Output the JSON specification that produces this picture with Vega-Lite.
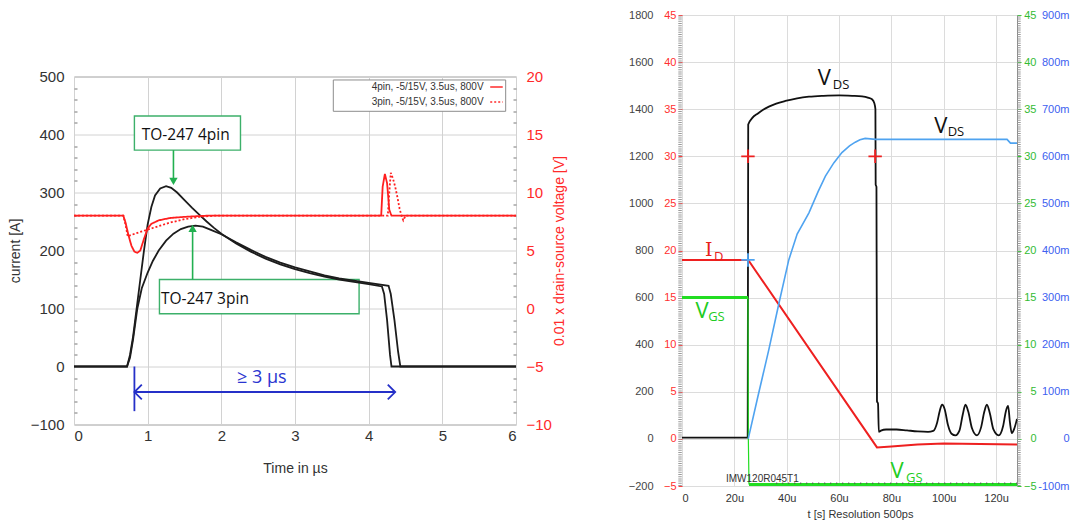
{
  "$schema": "https://vega.github.io/schema/vega-lite/v6.json",
  "background": "white",
  "padding": {"left": 7, "top": 8, "right": 4, "bottom": 4},
  "spacing": 166,
  "bounds": "flush",
  "center": true,
  "config": {"font": "Liberation Sans"},
  "datasets": {
    "cur": [
      {"s":"4pin","t":0,"v":0},{"s":"4pin","t":0.5,"v":0},{"s":"4pin","t":0.72,"v":0},{"s":"4pin","t":0.76,"v":20},{"s":"4pin","t":0.8,"v":50},
      {"s":"4pin","t":0.85,"v":100},{"s":"4pin","t":0.9,"v":150},{"s":"4pin","t":0.95,"v":200},{"s":"4pin","t":1.0,"v":245},{"s":"4pin","t":1.05,"v":275},
      {"s":"4pin","t":1.1,"v":295},{"s":"4pin","t":1.17,"v":307},{"s":"4pin","t":1.25,"v":311},{"s":"4pin","t":1.32,"v":308},{"s":"4pin","t":1.4,"v":300},
      {"s":"4pin","t":1.5,"v":287},{"s":"4pin","t":1.6,"v":274},{"s":"4pin","t":1.7,"v":262},{"s":"4pin","t":1.8,"v":250},{"s":"4pin","t":1.9,"v":239},
      {"s":"4pin","t":2.0,"v":229},{"s":"4pin","t":2.2,"v":212},{"s":"4pin","t":2.4,"v":198},{"s":"4pin","t":2.6,"v":186},{"s":"4pin","t":2.8,"v":176},
      {"s":"4pin","t":3.0,"v":168},{"s":"4pin","t":3.2,"v":161},{"s":"4pin","t":3.4,"v":155},{"s":"4pin","t":3.6,"v":150},{"s":"4pin","t":3.8,"v":146},
      {"s":"4pin","t":4.0,"v":142},{"s":"4pin","t":4.18,"v":138},{"s":"4pin","t":4.21,"v":125},{"s":"4pin","t":4.25,"v":80},{"s":"4pin","t":4.29,"v":20},
      {"s":"4pin","t":4.31,"v":0},{"s":"4pin","t":5,"v":0},{"s":"4pin","t":6,"v":0},
      {"s":"3pin","t":0,"v":0},{"s":"3pin","t":0.72,"v":0},{"s":"3pin","t":0.76,"v":15},{"s":"3pin","t":0.8,"v":45},{"s":"3pin","t":0.86,"v":100},
      {"s":"3pin","t":0.92,"v":135},{"s":"3pin","t":1.0,"v":162},{"s":"3pin","t":1.07,"v":182},{"s":"3pin","t":1.15,"v":200},{"s":"3pin","t":1.25,"v":217},
      {"s":"3pin","t":1.35,"v":229},{"s":"3pin","t":1.45,"v":237},{"s":"3pin","t":1.55,"v":241},{"s":"3pin","t":1.65,"v":243},{"s":"3pin","t":1.75,"v":241},
      {"s":"3pin","t":1.85,"v":236},{"s":"3pin","t":2.0,"v":228},{"s":"3pin","t":2.2,"v":214},{"s":"3pin","t":2.4,"v":201},{"s":"3pin","t":2.6,"v":189},
      {"s":"3pin","t":2.8,"v":179},{"s":"3pin","t":3.0,"v":171},{"s":"3pin","t":3.2,"v":164},{"s":"3pin","t":3.4,"v":157},{"s":"3pin","t":3.6,"v":152},
      {"s":"3pin","t":3.8,"v":148},{"s":"3pin","t":4.0,"v":144},{"s":"3pin","t":4.27,"v":139},{"s":"3pin","t":4.3,"v":125},{"s":"3pin","t":4.35,"v":80},
      {"s":"3pin","t":4.4,"v":25},{"s":"3pin","t":4.43,"v":0},{"s":"3pin","t":5,"v":0},{"s":"3pin","t":6,"v":0}
    ],
    "vol": [
      {"s":"4pin","t":0,"v":8},{"s":"4pin","t":0.67,"v":8},{"s":"4pin","t":0.7,"v":7.4},{"s":"4pin","t":0.74,"v":6.3},{"s":"4pin","t":0.78,"v":5.4},
      {"s":"4pin","t":0.82,"v":4.9},{"s":"4pin","t":0.86,"v":4.8},{"s":"4pin","t":0.9,"v":5.0},{"s":"4pin","t":0.95,"v":6.0},{"s":"4pin","t":1.0,"v":6.9},
      {"s":"4pin","t":1.05,"v":7.3},{"s":"4pin","t":1.15,"v":7.6},{"s":"4pin","t":1.3,"v":7.8},{"s":"4pin","t":1.5,"v":7.9},{"s":"4pin","t":1.8,"v":8},
      {"s":"4pin","t":4.17,"v":8},{"s":"4pin","t":4.19,"v":10.5},{"s":"4pin","t":4.22,"v":11.6},{"s":"4pin","t":4.25,"v":10.8},{"s":"4pin","t":4.28,"v":8.5},
      {"s":"4pin","t":4.31,"v":8},{"s":"4pin","t":6,"v":8},
      {"s":"3pin","t":0,"v":8},{"s":"3pin","t":0.67,"v":8},{"s":"3pin","t":0.7,"v":7.2},{"s":"3pin","t":0.73,"v":6.2},{"s":"3pin","t":0.76,"v":6.3},
      {"s":"3pin","t":0.85,"v":6.5},{"s":"3pin","t":1.0,"v":6.8},{"s":"3pin","t":1.15,"v":7.1},{"s":"3pin","t":1.3,"v":7.4},{"s":"3pin","t":1.5,"v":7.7},
      {"s":"3pin","t":1.7,"v":7.9},{"s":"3pin","t":1.9,"v":8},{"s":"3pin","t":4.26,"v":8},{"s":"3pin","t":4.28,"v":10},{"s":"3pin","t":4.3,"v":11.7},
      {"s":"3pin","t":4.33,"v":11.2},{"s":"3pin","t":4.36,"v":10.5},{"s":"3pin","t":4.39,"v":9.6},{"s":"3pin","t":4.42,"v":8.6},{"s":"3pin","t":4.45,"v":7.9},
      {"s":"3pin","t":4.47,"v":7.6},{"s":"3pin","t":4.5,"v":8},{"s":"3pin","t":6,"v":8}
    ],
    "box_green": [{"t":0.82,"t2":2.26,"v":373,"v2":432},{"t":1.16,"t2":3.87,"v":91,"v2":150}],
    "box_leg": [{"t":3.52,"t2":5.86,"v":440,"v2":494}],
    "arrow_green": [{"t":1.35,"v":373,"v2":322},{"t":1.61,"v":150,"v2":236}],
    "head_green": [{"t":1.35,"v":319,"dir":"down"},{"t":1.61,"v":238,"dir":"up"}],
    "blue_lines": [{"t":0.82,"t2":0.82,"v":0,"v2":-77},{"t":0.82,"t2":4.36,"v":-44,"v2":-44}],
    "blue_heads": [{"t":0.82,"v":-44,"dir":"left"},{"t":4.36,"v":-44,"dir":"right"}],
    "lab_left": [{"t":0.92,"v":400,"txt":"TO-247 4pin"},{"t":1.18,"v":116,"txt":"TO-247 3pin"}],
    "lab_blue": [{"t":2.55,"v":-20,"txt":"≥ 3 µs"}],
    "leg_text": [{"t":5.56,"v":482,"txt":"4pin, -5/15V, 3.5us, 800V"},{"t":5.56,"v":456,"txt":"3pin, -5/15V, 3.5us, 800V"}],
    "leg_lines": [{"s":"4pin","t":5.65,"v":482},{"s":"4pin","t":5.82,"v":482},{"s":"3pin","t":5.65,"v":456},{"s":"3pin","t":5.82,"v":456}],
    "vds": [
      {"t":0,"v":5},{"t":25.1,"v":5},{"t":25.3,"v":1335},{"t":26.8,"v":1362},{"t":29,"v":1382},{"t":31,"v":1398},{"t":33.2,"v":1411},
      {"t":36,"v":1424},{"t":39.5,"v":1435},{"t":44,"v":1446},{"t":48.5,"v":1453},{"t":54,"v":1457},{"t":60,"v":1459},{"t":65,"v":1457},
      {"t":68.8,"v":1454},{"t":71,"v":1449},{"t":72.6,"v":1442},{"t":73.5,"v":1425},{"t":73.9,"v":1400},{"t":74.0,"v":1080},{"t":74.3,"v":1070},
      {"t":74.5,"v":160},{"t":74.9,"v":150},{"t":75.2,"v":30},{"t":76,"v":35},{"t":78,"v":40},{"t":82,"v":40},{"t":86,"v":36},{"t":90,"v":32},
      {"t":94,"v":30},{"t":96,"v":34},{"t":97.5,"v":70},{"t":98.5,"v":120},{"t":99.4,"v":145},{"t":100.4,"v":125},{"t":101.6,"v":60},{"t":103,"v":22},
      {"t":104.5,"v":15},{"t":106,"v":35},{"t":107.3,"v":105},{"t":108.3,"v":145},{"t":109.4,"v":115},{"t":110.8,"v":45},{"t":112.7,"v":15},
      {"t":114.3,"v":50},{"t":115.5,"v":115},{"t":116.5,"v":145},{"t":117.6,"v":110},{"t":119,"v":40},{"t":121,"v":15},{"t":122.7,"v":55},
      {"t":123.8,"v":120},{"t":124.6,"v":140},{"t":125.3,"v":70},{"t":126,"v":25},{"t":127,"v":45},{"t":128,"v":85}
    ],
    "id": [{"t":0,"v":19},{"t":25.3,"v":19},{"t":74.5,"v":-0.9},{"t":80,"v":-0.8},{"t":90,"v":-0.6},{"t":100,"v":-0.5},{"t":128,"v":-0.6}],
    "vgs": [{"s":"on","t":0,"v":15},{"s":"on","t":25.2,"v":15},{"s":"off","t":25.6,"v":-4.85},{"s":"off","t":128,"v":-4.85}],
    "vgs_drop": [{"t":25.2,"v":15},{"t":25.35,"v":0},{"t":25.6,"v":-4.85}],
    "vds2": [
      {"t":25.3,"v":0},{"t":29,"v":0.09},{"t":33.2,"v":0.19},{"t":37,"v":0.287},{"t":40.8,"v":0.38},{"t":44,"v":0.435},{"t":48.5,"v":0.48},
      {"t":52,"v":0.525},{"t":54.8,"v":0.558},{"t":58,"v":0.586},{"t":61.1,"v":0.608},{"t":64,"v":0.622},{"t":66.2,"v":0.63},{"t":68,"v":0.635},
      {"t":70,"v":0.638},{"t":74,"v":0.636},{"t":124.2,"v":0.636},{"t":125.5,"v":0.628},{"t":128,"v":0.628}
    ],
    "xred": [{"t":25.2,"v":30},{"t":73.8,"v":30}],
    "xblue": [{"t":25.2,"v":19}],
    "rbig": [
      {"t":51.9,"v":37.57,"k":"VDS","txt":"V"},{"t":96.4,"v":32.52,"k":"VDS","txt":"V"},
      {"t":5.2,"v":12.88,"k":"VGS","txt":"V"},{"t":79.7,"v":-4.1,"k":"VGS","txt":"V"}
    ],
    "rbig_i": [{"t":8.8,"v":19.42,"txt":"I"}],
    "rsub": [
      {"t":57.6,"v":37.19,"k":"VDS","txt":"DS"},{"t":101.5,"v":32.15,"k":"VDS","txt":"DS"},{"t":12.2,"v":18.9,"k":"ID","txt":"D"},
      {"t":10.0,"v":12.52,"k":"VGS","txt":"GS"},{"t":85.6,"v":-4.57,"k":"VGS","txt":"GS"}
    ],
    "part": [{"t":16.8,"v":-4.6,"txt":"IMW120R045T1"}],
    "dots": [{"t":36,"v":-4.7},{"t":128,"v":-4.7}],
    "frame_ticks": [{"t":-0.75,"v":-5,"v2":45},{"t":128.75,"v":-5,"v2":45}]
  },
  "hconcat": [
    {
      "width": 442,
      "height": 348,
      "view": {"stroke": "#9a9a9a"},
      "encoding": {
        "x": {
          "field": "t", "type": "quantitative",
          "scale": {"domain": [0, 6], "nice": false, "zero": false},
          "axis": {"title": "Time in µs", "values": [0,1,2,3,4,5,6], "grid": true, "gridColor": "#d2d2d2", "domain": false, "ticks": false,
                   "labelPadding": 4, "labelFontSize": 15, "labelColor": "#333", "titleFontSize": 14, "titleFontWeight": "normal", "titleColor": "#333", "titlePadding": 18}
        }
      },
      "resolve": {"scale": {"y": "independent"}},
      "layer": [
        {
          "encoding": {
            "y": {
              "field": "v", "type": "quantitative",
              "scale": {"domain": [-100, 500], "nice": false, "zero": false},
              "axis": {"orient": "left", "title": "current [A]", "values": [-100,0,100,200,300,400,500], "grid": true, "gridColor": "#d2d2d2",
                       "domain": false, "ticks": false, "labelPadding": 10, "labelFontSize": 15, "labelColor": "#333",
                       "titleFontSize": 14, "titleFontWeight": "normal", "titleColor": "#333", "titlePadding": 8}
            }
          },
          "resolve": {"scale": {"shape": "independent"}},
          "layer": [
            {"data": {"name": "box_green"}, "mark": {"type": "rect", "fill": "white", "stroke": "#3cb06a", "strokeWidth": 1.4},
             "encoding": {"x2": {"field": "t2"}, "y2": {"field": "v2"}}},
            {"data": {"name": "box_leg"}, "mark": {"type": "rect", "fill": "white", "stroke": "#8c8c8c", "strokeWidth": 1},
             "encoding": {"x2": {"field": "t2"}, "y2": {"field": "v2"}}},
            {"data": {"name": "cur"}, "mark": {"type": "line", "color": "#1c1c1c", "strokeWidth": 1.8},
             "encoding": {"detail": {"field": "s"}}},
            {"data": {"name": "arrow_green"}, "mark": {"type": "rule", "color": "#22b050", "strokeWidth": 1.6},
             "encoding": {"y2": {"field": "v2"}}},
            {"data": {"name": "head_green"}, "mark": {"type": "point", "filled": true, "color": "#22b050", "size": 70, "opacity": 1},
             "encoding": {"shape": {"field": "dir", "type": "nominal", "scale": {"domain": ["down","up"], "range": ["triangle-down","triangle-up"]}, "legend": null}}},
            {"data": {"name": "blue_lines"}, "mark": {"type": "rule", "color": "#2530c8", "strokeWidth": 1.8},
             "encoding": {"x2": {"field": "t2"}, "y2": {"field": "v2"}}},
            {"data": {"name": "blue_heads"}, "mark": {"type": "point", "filled": false, "color": "#2530c8", "strokeWidth": 1.8, "size": 220, "opacity": 1},
             "encoding": {"shape": {"field": "dir", "type": "nominal", "scale": {"domain": ["left","right"], "range": ["M1,-1L0,0L1,1","M-1,-1L0,0L-1,1"]}, "legend": null}}},
            {"data": {"name": "lab_left"}, "mark": {"type": "text", "align": "left", "baseline": "middle", "fontSize": 15.5, "color": "#111", "font": "Open Sans"},
             "encoding": {"text": {"field": "txt"}}},
            {"data": {"name": "lab_blue"}, "mark": {"type": "text", "align": "center", "baseline": "middle", "fontSize": 18, "color": "#2a35d0", "font": "Open Sans"},
             "encoding": {"text": {"field": "txt"}}},
            {"data": {"name": "leg_text"}, "mark": {"type": "text", "align": "right", "baseline": "middle", "fontSize": 10, "color": "#333"},
             "encoding": {"text": {"field": "txt"}}},
            {"data": {"name": "leg_lines"}, "mark": {"type": "line", "color": "#ff2a2a", "strokeWidth": 1.5},
             "encoding": {"detail": {"field": "s"},
                          "strokeDash": {"field": "s", "type": "nominal", "scale": {"domain": ["4pin","3pin"], "range": [[1,0],[2,2]]}, "legend": null}}}
          ]
        },
        {
          "data": {"name": "vol"},
          "mark": {"type": "line", "color": "#ff1f1f", "strokeWidth": 1.8},
          "encoding": {
            "y": {
              "field": "v", "type": "quantitative",
              "scale": {"domain": [-10, 20], "nice": false, "zero": false},
              "axis": {"orient": "right", "title": "0.01 x drain-source voltage [V]", "values": [-10,-5,0,5,10,15,20], "grid": false,
                       "domain": false, "ticks": false, "labelPadding": 10, "labelFontSize": 15, "labelColor": "#ff2a2a",
                       "titleColor": "#ff2a2a", "titleFontSize": 14, "titleFontWeight": "normal", "titleAngle": 270, "titlePadding": 15}
            },
            "detail": {"field": "s"},
            "strokeDash": {"field": "s", "type": "nominal", "scale": {"domain": ["4pin","3pin"], "range": [[1,0],[4,1]]}, "legend": null}
          }
        },
        {
          "data": {"name": "box_leg"},
          "mark": {"type": "point", "opacity": 0},
          "encoding": {
            "y": {"field": "v", "type": "quantitative", "scale": {"domain": [-100, 500], "nice": false, "zero": false},
                  "axis": {"orient": "left", "title": null, "labels": false, "domain": false, "grid": false, "ticks": true, "tickSize": -3, "tickColor": "#777",
                           "values": [-80,-60,-40,-20,20,40,60,80,120,140,160,180,220,240,260,280,320,340,360,380,420,440,460,480]}}
          }
        },
        {
          "data": {"name": "box_leg"},
          "mark": {"type": "point", "opacity": 0},
          "encoding": {
            "y": {"field": "v", "type": "quantitative", "scale": {"domain": [-100, 500], "nice": false, "zero": false},
                  "axis": {"orient": "right", "title": null, "labels": false, "domain": false, "grid": false, "ticks": true, "tickSize": -3, "tickColor": "#777",
                           "values": [-80,-60,-40,-20,20,40,60,80,120,140,160,180,220,240,260,280,320,340,360,380,420,440,460,480]}}
          }
        }
      ]
    },
    {
      "width": 335,
      "height": 471,
      "view": {"stroke": "#8a8a8a"},
      "encoding": {
        "x": {
          "field": "t", "type": "quantitative",
          "scale": {"domain": [0, 128], "nice": false, "zero": false},
          "axis": {"title": "t [s]  Resolution 500ps", "values": [0,20,40,60,80,100,120], "labelExpr": "datum.value == 0 ? '0' : datum.value + 'u'",
                   "grid": true, "gridColor": "#dcdcdc", "domain": false, "ticks": false, "labelPadding": 6, "labelFontSize": 11, "labelColor": "#333",
                   "titleFontSize": 11, "titleFontWeight": "normal", "titleColor": "#333", "titlePadding": 5, "titleX": 178}
        }
      },
      "resolve": {"scale": {"y": "independent"}},
      "layer": [
        {
          "data": {"name": "vds"},
          "mark": {"type": "line", "color": "#111", "strokeWidth": 1.8, "interpolate": "monotone"},
          "encoding": {
            "y": {"field": "v", "type": "quantitative", "scale": {"domain": [-200, 1800], "nice": false, "zero": false},
                  "axis": {"orient": "left", "offset": 26, "title": null, "format": "d", "values": [-200,0,200,400,600,800,1000,1200,1400,1600,1800],
                           "grid": true, "gridColor": "#dcdcdc", "domain": false, "ticks": false, "labelPadding": 3, "labelFontSize": 11, "labelColor": "#444"}}
          }
        },
        {
          "encoding": {
            "y": {"field": "v", "type": "quantitative", "scale": {"domain": [-5, 45], "nice": false, "zero": false},
                  "axis": {"orient": "left", "title": null, "values": [-5,0,5,10,15,20,25,30,35,40,45], "grid": false, "domain": false,
                           "ticks": true, "tickSize": 4, "tickColor": "#ff4040", "labelPadding": 2, "labelFontSize": 11, "labelColor": "#ff3030"}}
          },
          "layer": [
            {"data": {"name": "frame_ticks"}, "mark": {"type": "rule", "color": "#9a9a9a", "strokeWidth": 3.5, "strokeDash": [1, 1.2], "clip": false},
             "encoding": {"y2": {"field": "v2"}}},
            {"data": {"name": "id"}, "mark": {"type": "line", "color": "#ee2020", "strokeWidth": 2}},
            {"data": {"name": "xred"}, "mark": {"type": "point", "shape": "M-1,0L1,0M0,-1L0,1", "filled": false, "color": "#ee2020", "strokeWidth": 1.8, "size": 180, "opacity": 1}},
            {"data": {"name": "xblue"}, "mark": {"type": "point", "shape": "M-1,0L1,0M0,-1L0,1", "filled": false, "color": "#4fa3f0", "strokeWidth": 1.8, "size": 180, "opacity": 1}},
            {"data": {"name": "rbig"}, "mark": {"type": "text", "align": "left", "baseline": "alphabetic", "fontSize": 22, "font": "Open Sans"},
             "encoding": {"text": {"field": "txt"},
                          "color": {"field": "k", "type": "nominal", "scale": {"domain": ["VDS","ID","VGS"], "range": ["#111111","#e8201a","#22cc22"]}, "legend": null}}},
            {"data": {"name": "rbig_i"}, "mark": {"type": "text", "align": "left", "baseline": "alphabetic", "fontSize": 19, "font": "DejaVu Serif", "color": "#e8201a"},
             "encoding": {"text": {"field": "txt"}}},
            {"data": {"name": "rsub"}, "mark": {"type": "text", "align": "left", "baseline": "alphabetic", "fontSize": 13, "font": "Open Sans"},
             "encoding": {"text": {"field": "txt"},
                          "color": {"field": "k", "type": "nominal", "scale": {"domain": ["VDS","ID","VGS"], "range": ["#111111","#e8201a","#22cc22"]}, "legend": null}}}
          ]
        },
        {
          "encoding": {
            "y": {"field": "v", "type": "quantitative", "scale": {"domain": [-5, 45], "nice": false, "zero": false},
                  "axis": {"orient": "right", "title": null, "values": [-5,0,5,10,15,20,25,30,35,40,45], "grid": false, "domain": false,
                           "ticks": true, "tickSize": 4, "tickColor": "#33cc33", "labelAlign": "right", "labelPadding": 15, "labelFontSize": 11, "labelColor": "#33bb33"}}
          },
          "layer": [
            {"data": {"name": "vgs"}, "mark": {"type": "line", "color": "#22dd22", "strokeWidth": 3}, "encoding": {"detail": {"field": "s"}}},
            {"data": {"name": "vgs_drop"}, "mark": {"type": "line", "color": "#22dd22", "strokeWidth": 1.2}},
            {"data": {"name": "dots"}, "mark": {"type": "line", "color": "#555", "strokeWidth": 1.5, "strokeDash": [1, 5]}},
            {"data": {"name": "part"}, "mark": {"type": "text", "align": "left", "baseline": "alphabetic", "fontSize": 10, "color": "#333"},
             "encoding": {"text": {"field": "txt"}}}
          ]
        },
        {
          "data": {"name": "vds2"},
          "mark": {"type": "line", "color": "#4fa3f0", "strokeWidth": 1.6},
          "encoding": {
            "y": {"field": "v", "type": "quantitative", "scale": {"domain": [-0.1, 0.9], "nice": false, "zero": false},
                  "axis": {"orient": "right", "offset": 22, "title": null, "values": [-0.1,0,0.1,0.2,0.3,0.4,0.5,0.6,0.7,0.8,0.9],
                           "labelExpr": "replace(format(datum.value, '~s'), '−', '-')", "grid": false, "domain": false, "ticks": false,
                           "labelAlign": "right", "labelPadding": 30, "labelFontSize": 11, "labelColor": "#4060f0"}}
          }
        }
      ]
    }
  ]
}
